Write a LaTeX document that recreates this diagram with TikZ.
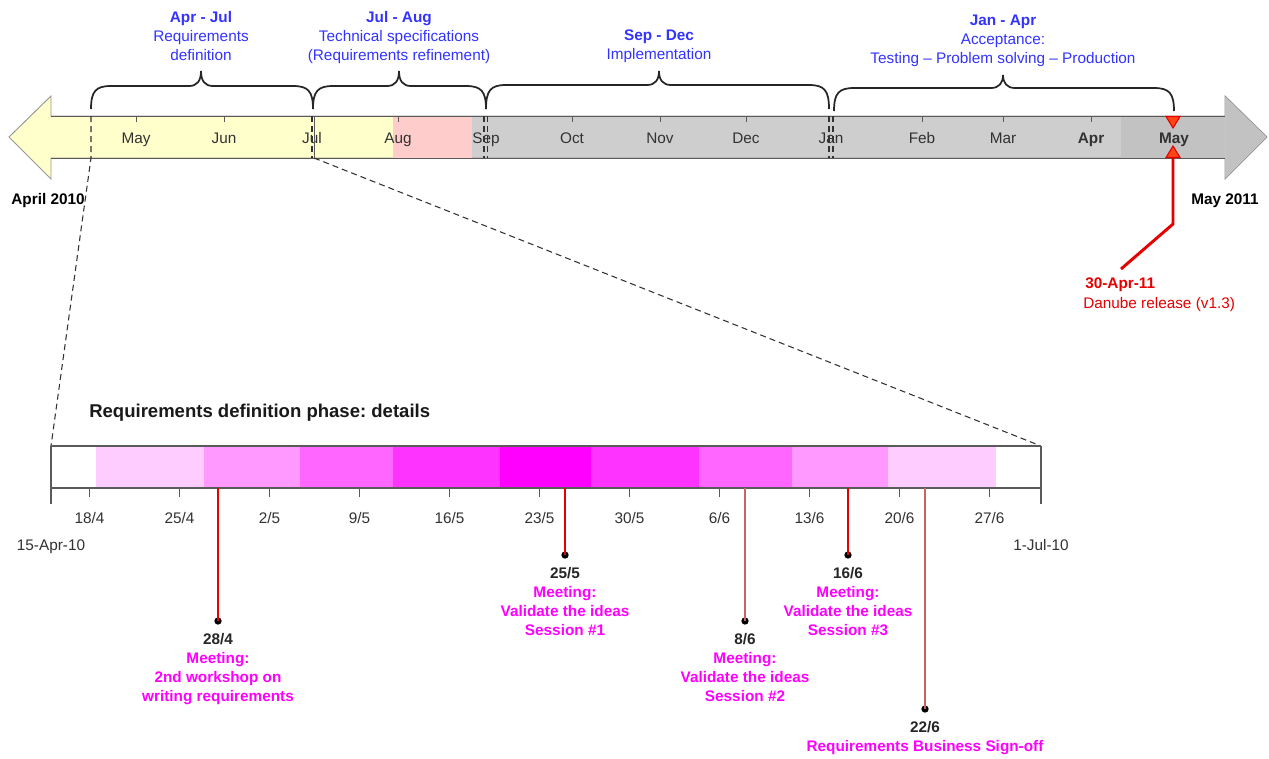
\documentclass[tikz,border=0pt]{standalone}
\usepackage{fontspec}
\setmainfont{Liberation Sans}
\usetikzlibrary{calc}
\frenchspacing
\definecolor{yel}{RGB}{255,255,204}
\definecolor{pnk}{RGB}{255,204,204}
\definecolor{grA}{RGB}{206,206,206}
\definecolor{grB}{RGB}{194,194,194}
\definecolor{blu}{RGB}{51,51,255}
\definecolor{mag}{RGB}{255,0,255}
\definecolor{mA}{RGB}{255,204,255}
\definecolor{mB}{RGB}{255,153,255}
\definecolor{mC}{RGB}{255,102,255}
\definecolor{mD}{RGB}{255,51,255}
\definecolor{mE}{RGB}{255,0,255}
\definecolor{rd}{RGB}{230,0,0}
\definecolor{orng}{RGB}{255,70,20}
\definecolor{brn}{RGB}{200,100,100}
\definecolor{txt}{RGB}{50,50,50}
\definecolor{outl}{RGB}{150,150,150}
\definecolor{shaft}{RGB}{90,90,90}
\begin{document}
\begin{tikzpicture}[x=0.75pt,y=-0.75pt,
  font=\fontsize{11.5}{14.4}\selectfont,
  lbl/.style={inner sep=0pt, text=txt},
  blbl/.style={inner sep=0pt, text=txt, anchor=base},
  toplbl/.style={inner sep=0pt, text=blu, align=center, anchor=north},
  evlbl/.style={inner sep=0pt, text=mag, align=center, anchor=north, font=\fontsize{11.5}{14.4}\selectfont\bfseries},
  bracestyle/.style={line width=1.3pt, draw=black!85},
  dsh/.style={dashed, dash pattern=on 4.5pt off 3pt, line width=0.8pt, draw=black!80},
  evline/.style={draw=rd, line width=0.8pt},
  evlineb/.style={draw=brn, line width=1.1pt},
  dot/.style={circle, fill=black, inner sep=0pt, minimum size=5.5pt},
  tick/.style={draw=shaft, line width=0.7pt}
]
\useasboundingbox (0,0) rectangle (1269,758);
\fill[white] (0,0) rectangle (1269,758);

% ---------- main timeline arrow ----------
\draw[fill=yel, draw=outl, line width=0.7pt] (9,137) -- (51,96) -- (51,116) -- (472,116) -- (472,158) -- (51,158) -- (51,179) -- cycle;
\fill[pnk] (393,116) rectangle (472,158);
\draw[fill=grA, draw=outl, line width=0.7pt] (472,116) -- (1225,116) -- (1225,96) -- (1267,137) -- (1225,179) -- (1225,158) -- (472,158);
\fill[grB] (1121,116.4) rectangle (1225,157.6);
\fill[grB] (1225.4,97) -- (1266,137) -- (1225.4,178) -- cycle;
\draw[draw=shaft, line width=0.7pt] (51,116) -- (1225,116);
\draw[draw=shaft, line width=0.7pt] (51,158) -- (1225,158);

% month ticks
\foreach \x in {136,224,398,572,660,746,922,1003,1091}
  \draw[tick] (\x,116) -- (\x,122);

% month labels
\foreach \x/\t in {136/May,224/Jun,312/Jul,398/Aug,486/Sep,572/Oct,660/Nov,746/Dec,831/Jan,922/Feb,1003/Mar}
  \node[blbl] (mon\x) at (\x,143.5) {\t};
\node[blbl, font=\fontsize{11.5}{14.4}\selectfont\bfseries] (monApr) at (1091,143.5) {Apr};
\node[blbl, font=\fontsize{11.5}{14.4}\selectfont\bfseries] (monMay) at (1174,143.5) {May};

% phase separators
\coordinate (zA) at (91,116);
\coordinate (zB) at (91,158);
\coordinate (barTL) at (51,446);
\coordinate (barTR) at (1041,446);
\coordinate (jA) at (314,116);
\coordinate (jB) at (314,158);
\draw[dsh] (zA) -- (zB) -- (barTL);
\draw[dsh] (312,116) -- (312,158);
\draw[draw=shaft, line width=0.6pt] (jA) -- (jB);
\draw[dsh] (jB) -- (barTR);
\draw[dsh] (484,116) -- (484,158);
\draw[dsh] (487.5,116) -- (487.5,158);
\draw[dsh] (829,116) -- (829,158);
\draw[dsh] (833,116) -- (833,158);

% braces
\foreach \a/\b/\m/\yb/\yh/\yt in {91/313/201/109/86/71, 313/486/399/109/86/71, 486/829/659/109/85/71, 834/1174/1003/111/88/75}
  \draw[bracestyle] (\a,\yb) .. controls (\a,\yh+5) and (\a+5,\yh) .. (\a+20,\yh) -- (\m-12,\yh)
     .. controls (\m-4,\yh) and (\m,\yh-5) .. (\m,\yt)
     .. controls (\m,\yh-5) and (\m+4,\yh) .. (\m+12,\yh) -- (\b-20,\yh)
     .. controls (\b-5,\yh) and (\b,\yh+5) .. (\b,\yb);

% phase labels
\node[toplbl] (phA) at (201,11) {\textbf{Apr - Jul}\\Requirements\\definition};
\node[toplbl] (phB) at (399,11) {\textbf{Jul - Aug}\\Technical specifications\\(Requirements refinement)};
\node[toplbl] (phC) at (659,29.5) {\textbf{Sep - Dec}\\Implementation};
\node[toplbl] (phD) at (1003,14.5) {\textbf{Jan - Apr}\\Acceptance:\\Testing -- Problem solving -- Production};

\node[blbl, text=black, font=\fontsize{11.5}{14.4}\selectfont\bfseries] (startlbl) at (48,204.5) {April 2010};
\node[blbl, text=black, font=\fontsize{11.5}{14.4}\selectfont\bfseries] (endlbl) at (1225,204.5) {May 2011};

% release marker
\draw[draw=rd, fill=orng, line width=0.8pt] (1166,116.5) -- (1180,116.5) -- (1173,128) -- cycle;
\draw[draw=rd, fill=orng, line width=0.8pt] (1166,157.5) -- (1180,157.5) -- (1173,146) -- cycle;
\coordinate (relA) at (1173,158);
\coordinate (relB) at (1173,224);
\coordinate (relC) at (1121,269);
\draw[draw=rd, line width=2.2pt, line join=miter] (relA) -- (relB) -- (relC);
\node[inner sep=0pt, anchor=base west, text=rd, font=\fontsize{11.5}{14.4}\selectfont\bfseries] (relDate) at (1085,288.5) {30-Apr-11};
\node[inner sep=0pt, anchor=base west, text=rd] (relTxt) at (1083,308.5) {Danube release (v1.3)};

% ---------- detail section ----------
\node[inner sep=0pt, anchor=base west, text=black!90, font=\fontsize{13.9}{16}\selectfont\bfseries] (title) at (89,417.5) {Requirements definition phase: details};

\foreach \a/\b/\c in {96/204/mA, 204/300/mB, 300/393/mC, 393/500/mD, 500/591/mE, 591/699/mD, 699/792/mC, 792/888/mB, 888/996/mA}
  \fill[\c] (\a,446) rectangle (\b,488);
\draw[draw=shaft, line width=0.8pt] (barTL) -- (barTR);
\draw[draw=shaft, line width=0.8pt] (51,488) -- (1041,488);
\draw[draw=shaft, line width=0.8pt] (51,446) -- (51,504);
\draw[draw=shaft, line width=0.8pt] (1041,446) -- (1041,504);

\foreach \d/\t in {3/{18/4},10/{25/4},17/{2/5},24/{9/5},31/{16/5},38/{23/5},45/{30/5},52/{6/6},59/{13/6},66/{20/6},73/{27/6}} {
  \draw[tick] ({51+12.857*\d},488) -- ({51+12.857*\d},497);
  \node[blbl] (dl\d) at ({51+12.857*\d},523) {\t};
}
\node[blbl] (dstart) at (51,550.5) {15-Apr-10};
\node[blbl] (dend) at (1041,550.5) {1-Jul-10};

% events
\foreach \n/\x/\y/\s in {eA/218/621/evline, eB/565/555/evline, eC/745/621/evlineb, eD/848/555/evline, eE/925/709/evlineb} {
  \coordinate (\n top) at (\x,488.4);
  \node[dot] (\n dot) at (\x,\y) {};
  \draw[\s] (\n top) -- (\n dot.center);
}
\node[evlbl] (eAlbl) at (218,633) {\textcolor{black!85}{28/4}\\Meeting:\\2nd workshop on\\writing requirements};
\node[evlbl] (eBlbl) at (565,567) {\textcolor{black!85}{25/5}\\Meeting:\\Validate the ideas\\Session \#1};
\node[evlbl] (eClbl) at (745,633) {\textcolor{black!85}{8/6}\\Meeting:\\Validate the ideas\\Session \#2};
\node[evlbl] (eDlbl) at (848,567) {\textcolor{black!85}{16/6}\\Meeting:\\Validate the ideas\\Session \#3};
\node[evlbl] (eElbl) at (925,721) {\textcolor{black!85}{22/6}\\Requirements Business Sign-off};
\end{tikzpicture}
\end{document}
